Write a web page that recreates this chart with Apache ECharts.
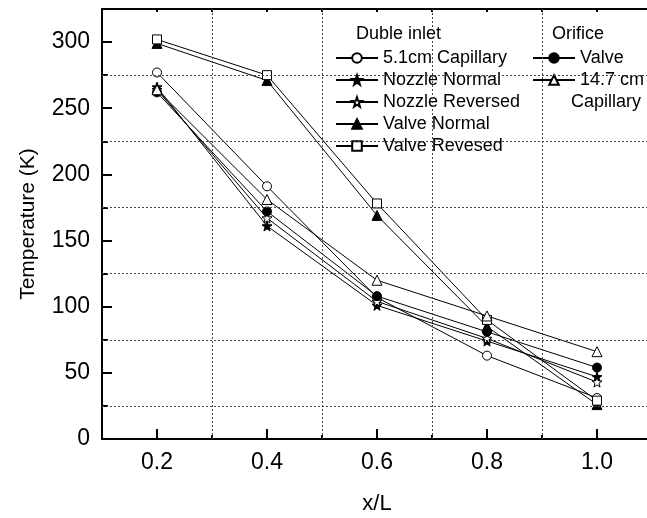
<!DOCTYPE html>
<html>
<head>
<meta charset="utf-8">
<script src="https://cdn.jsdelivr.net/npm/echarts@6/dist/echarts.min.js"></script>
<style>
  html, body { margin: 0; padding: 0; background: #fff; }
  #chart { width: 647px; height: 518px; }
</style>
</head>
<body>
<div id="chart"></div>
<script>
// x/L positions
const xs = [0.2, 0.4, 0.6, 0.8, 1.0];

// double inlet
const capillary51 = [277, 191, 107, 63, 31];
const nozzleNormal = [266, 161, 101, 74, 47];
const nozzleReversed = [264, 167, 104, 76, 43];
const valveNormal = [299, 271, 169, 85, 26];
const valveRevesed = [302, 275, 178, 90, 29];
// orifice
const orificeValve = [262, 172, 108, 81, 54];
const capillary147 = [264, 181, 120, 93, 66];

const xMajor = [0.2, 0.4, 0.6, 0.8, 1.0];
const xMinor = [0.3, 0.5, 0.7, 0.9];
const yMajor = [0, 50, 100, 150, 200, 250, 300];
const yMinor = [25, 75, 125, 175, 225, 275];

const FONT = 'Liberation Sans, Arial, sans-serif';
const STAR = 'path://M0,-10L2.35,-3.24L9.51,-3.09L3.8,1.24L5.88,8.09L0,4.2L-5.88,8.09L-3.8,1.24L-9.51,-3.09L-2.35,-3.24Z';

const chart = echarts.init(document.getElementById('chart'));

function pts(vals) {
  return xs.map((x, i) => [x, vals[i]]);
}

function mk(name, vals, symbol, filled, size) {
  return {
    name: name,
    type: 'line',
    data: pts(vals),
    symbol: symbol,
    symbolSize: size || 9,
    showAllSymbol: true,
    lineStyle: { color: '#000', width: 1 },
    itemStyle: { color: filled ? '#000' : '#fff', borderColor: '#000', borderWidth: 1 },
    emphasis: { disabled: true },
    z: 3
  };
}

const series = [
  mk('5.1cm Capillary', capillary51, 'circle', false, 9),
  mk('Nozzle Normal', nozzleNormal, STAR, true, 10),
  mk('Nozzle Reversed', nozzleReversed, STAR, false, 10),
  mk('Valve Normal', valveNormal, 'triangle', true, 10),
  mk('Valve Revesed', valveRevesed, 'rect', false, 9),
  mk('Valve', orificeValve, 'circle', true, 9),
  mk('14.7 cm', capillary147, 'triangle', false, 10)
];

// dotted grid lines
series.push({
  type: 'line',
  data: [],
  silent: true,
  markLine: {
    silent: true,
    symbol: 'none',
    label: { show: false },
    lineStyle: { color: '#444', width: 1, type: [2, 2] },
    data: xMinor.map(v => ({ xAxis: v })).concat(yMinor.map(v => ({ yAxis: v })))
  },
  z: 1
});

const axisLine = { show: true, lineStyle: { color: '#000', width: 2 } };

chart.setOption({
  animation: false,
  backgroundColor: '#fff',
  textStyle: { fontFamily: FONT },
  grid: { left: 102, right: -5, top: 9, bottom: 79, containLabel: false, outerBoundsMode: 'none' },
  xAxis: [
    {
      type: 'value', position: 'bottom', min: 0.1, max: 1.1,
      name: 'x/L', nameLocation: 'middle', nameGap: 54,
      nameTextStyle: { fontSize: 22, color: '#000', fontFamily: FONT },
      axisLine: axisLine,
      axisTick: { show: true, inside: true, length: 10, customValues: xMajor, lineStyle: { color: '#000', width: 2 } },
      axisLabel: { customValues: xMajor, formatter: v => v.toFixed(1), fontSize: 23, color: '#000', margin: 12, fontFamily: FONT },
      splitLine: { show: false }
    },
    {
      type: 'value', position: 'bottom', min: 0.1, max: 1.1,
      axisLine: { show: false },
      axisTick: { show: true, inside: true, length: 4, customValues: xMinor, lineStyle: { color: '#000', width: 2 } },
      axisLabel: { show: false },
      splitLine: { show: false }
    },
    {
      type: 'value', position: 'top', min: 0.1, max: 1.1, interval: 0.1,
      axisLine: axisLine,
      axisTick: { show: true, inside: true, length: 3, lineStyle: { color: '#000', width: 2 } },
      axisLabel: { show: false },
      splitLine: { show: false }
    }
  ],
  yAxis: [
    {
      type: 'value', position: 'left', min: 0, max: 325,
      name: 'Temperature (K)', nameLocation: 'middle', nameGap: 63,
      nameTextStyle: { fontSize: 21, color: '#000', fontFamily: FONT },
      axisLine: axisLine,
      axisTick: { show: true, inside: true, length: 10, customValues: yMajor, lineStyle: { color: '#000', width: 2 } },
      axisLabel: { customValues: yMajor, fontSize: 23, color: '#000', margin: 12, fontFamily: FONT },
      splitLine: { show: false }
    },
    {
      type: 'value', position: 'left', min: 0, max: 325,
      axisLine: { show: false },
      axisTick: { show: true, inside: true, length: 6, customValues: yMinor, lineStyle: { color: '#000', width: 2 } },
      axisLabel: { show: false },
      splitLine: { show: false }
    }
  ],
  legend: [
    {
      data: ['5.1cm Capillary', 'Nozzle Normal', 'Nozzle Reversed', 'Valve Normal', 'Valve Revesed'],
      orient: 'vertical', left: 335, top: 49, padding: 0,
      itemWidth: 42, itemHeight: 12, itemGap: 4,
      textStyle: { fontSize: 18, color: '#000', fontFamily: FONT },
      selectedMode: false
    },
    {
      data: ['Valve', '14.7 cm'],
      orient: 'vertical', left: 532, top: 49, padding: 0,
      itemWidth: 42, itemHeight: 12, itemGap: 4,
      textStyle: { fontSize: 18, color: '#000', fontFamily: FONT },
      selectedMode: false
    }
  ],
  graphic: [
    { type: 'text', left: 356, top: 25, style: { text: 'Duble inlet', font: '18px ' + FONT, fill: '#000' } },
    { type: 'text', left: 552, top: 25, style: { text: 'Orifice', font: '18px ' + FONT, fill: '#000' } },
    { type: 'text', left: 571, top: 93, style: { text: 'Capillary', font: '18px ' + FONT, fill: '#000' } }
  ],
  series: series.map(s => Object.assign({ xAxisIndex: 0, yAxisIndex: 0 }, s))
});
</script>
</body>
</html>
